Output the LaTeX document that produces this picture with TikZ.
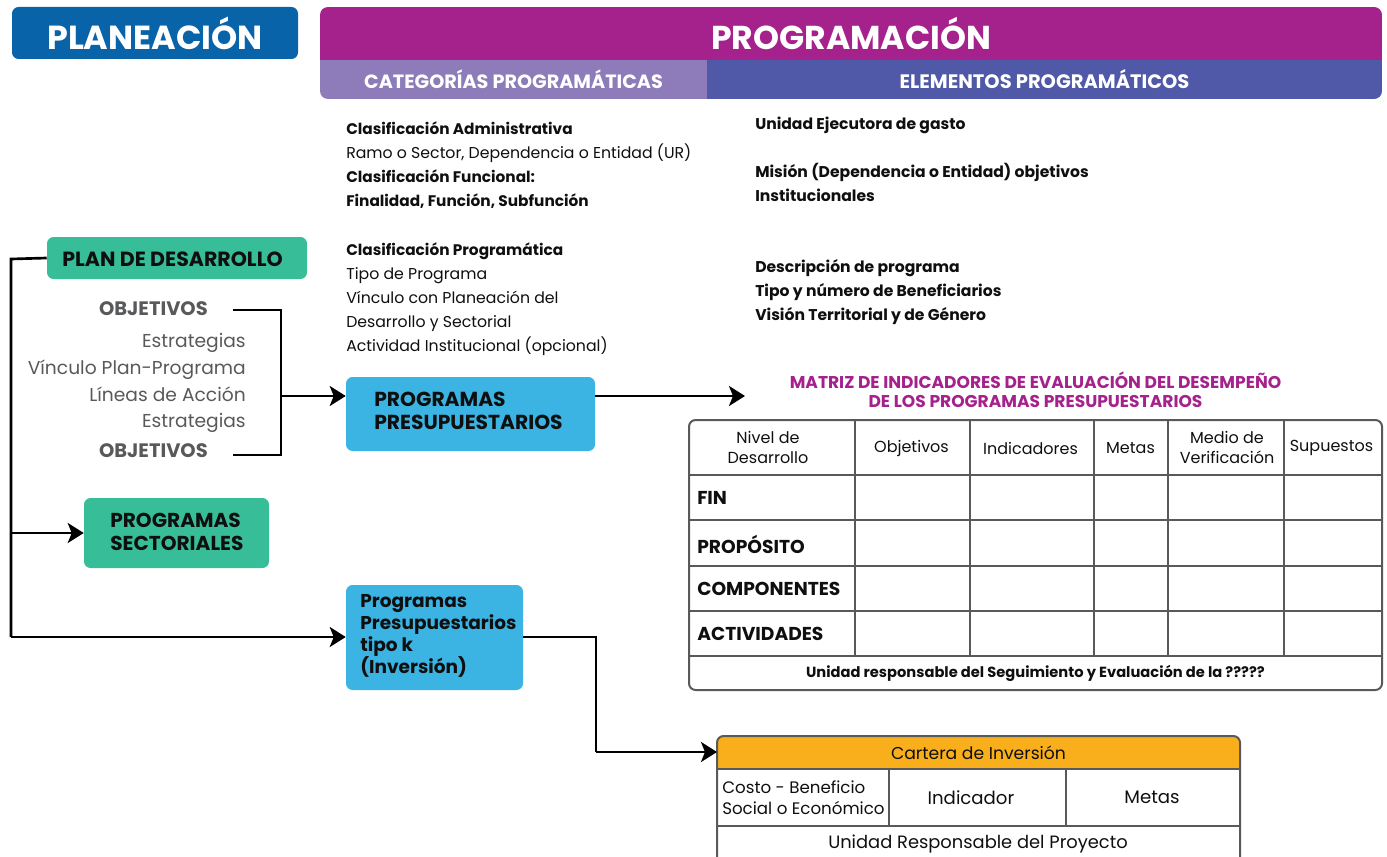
\documentclass[tikz,border=0pt]{standalone}
\usepackage{fontspec}
\setmainfont{Poppins}
\usetikzlibrary{arrows.meta}
\definecolor{cplan}{RGB}{8,99,168}
\definecolor{cmag}{RGB}{165,33,140}
\definecolor{clav}{RGB}{141,124,185}
\definecolor{cind}{RGB}{79,89,167}
\definecolor{cgreen}{RGB}{55,189,151}
\definecolor{ccyan}{RGB}{59,179,227}
\definecolor{corange}{RGB}{249,175,27}
\definecolor{cgray}{RGB}{88,89,91}
\definecolor{ctxt}{RGB}{15,15,15}
\tikzset{
  conn/.style={line width=2pt, black},
  arr/.style={conn, -{Stealth[length=12pt,width=15pt,inset=3pt]}},
  boxg/.style={fill=cgreen, rounded corners=5pt, inner sep=0pt},
  boxc/.style={fill=ccyan, rounded corners=5pt, inner sep=0pt},
  lbl/.style={inner sep=0pt, anchor=base west, font=\fontsize{11.8}{14}\selectfont, text=ctxt},
  lblb/.style={lbl, font=\fontsize{11.5}{14}\selectfont\bfseries},
  lblr/.style={lbl, font=\fontsize{11.7}{14}\selectfont\bfseries},
  grid/.style={draw=cgray, line width=1.5pt},
  cell/.style={inner sep=0pt, font=\fontsize{12}{14.5}\selectfont, align=center, text=ctxt},
  rowlbl/.style={inner sep=0pt, anchor=west, font=\fontsize{14}{16}\selectfont\bfseries, text=ctxt},
  plist/.style={inner sep=0pt, anchor=base east, font=\fontsize{14}{16}\selectfont, text=cgray},
  plistb/.style={inner sep=0pt, anchor=base east, font=\fontsize{14.6}{16}\selectfont\bfseries, text=cgray},
}
\begin{document}
\begin{tikzpicture}[x=0.75pt,y=-0.75pt]
\useasboundingbox (0,0) rectangle (1387,856);
% PLANEACION
\fill[cplan, rounded corners=5pt] (12,7) rectangle (298,59);
\node[text=white, font=\fontsize{25}{28}\selectfont\bfseries] (plan) at (155,33) {PLANEACIÓN};
% PROGRAMACION header
\begin{scope}
\clip[rounded corners=6pt] (320,7) rectangle (1382,99);
\fill[cmag] (320,7) rectangle (1382,60);
\fill[clav] (320,60) rectangle (707,99);
\fill[cind] (707,60) rectangle (1382,99);
\end{scope}
\node[text=white, font=\fontsize{24.8}{28}\selectfont\bfseries] (prog) at (851,33) {PROGRAMACIÓN};
\node[text=white, font=\fontsize{14.4}{16}\selectfont\bfseries] (cat) at (513.5,79) {CATEGORÍAS PROGRAMÁTICAS};
\node[text=white, font=\fontsize{14.6}{16}\selectfont\bfseries] (ele) at (1044.5,79) {ELEMENTOS PROGRAMÁTICOS};
% left text column
\node[lblb] (c1) at (346,134) {Clasificación Administrativa};
\node[lbl]  (c2) at (346,158) {Ramo o Sector, Dependencia o Entidad (UR)};
\node[lblb] (c3) at (346,182) {Clasificación Funcional:};
\node[lblb] (c4) at (346,206) {Finalidad, Función, Subfunción};
\node[lblb] (c5) at (346,255) {Clasificación Programática};
\node[lbl]  (c6) at (346,279) {Tipo de Programa};
\node[lbl]  (c7) at (346,303) {Vínculo con Planeación del};
\node[lbl]  (c8) at (346,327) {Desarrollo y Sectorial};
\node[lbl]  (c9) at (346,351) {Actividad Institucional (opcional)};
% right text column
\node[lblr] (e1) at (755,129) {Unidad Ejecutora de gasto};
\node[lblr] (e2) at (755,177) {Misión (Dependencia o Entidad) objetivos};
\node[lblr] (e3) at (755,201) {Institucionales};
\node[lblr] (e4) at (755,272) {Descripción de programa};
\node[lblr] (e5) at (755,296) {Tipo y número de Beneficiarios};
\node[lblr] (e6) at (755,320) {Visión Territorial y de Género};
% Plan de desarrollo
\node[boxg, minimum width=195pt, minimum height=31.5pt] (pd) at (177,258) {};
\node[inner sep=0pt, font=\fontsize{15.4}{17}\selectfont\bfseries, text=ctxt] (pdt) at (172.5,259) {PLAN DE DESARROLLO};
\node[plistb] (o1) at (208,315.5) {OBJETIVOS};
\node[plist] (s1) at (246,347) {Estrategias};
\node[plist] (v1) at (246,374) {Vínculo Plan-Programa};
\node[plist] (l1) at (246,401) {Líneas de Acción};
\node[plist] (s2) at (246,427) {Estrategias};
\node[plistb] (o2) at (208,457.5) {OBJETIVOS};
% Programas presupuestarios
\node[boxc, minimum width=186.75pt, minimum height=55.5pt] (pp) at (470.5,414) {};
\node[inner sep=0pt, anchor=west, align=left, font=\fontsize{15.2}{17}\selectfont\bfseries, text=ctxt] (ppt) at (374,411) {PROGRAMAS\\PRESUPUESTARIOS};
\node[boxg, minimum width=138.75pt, minimum height=52.5pt] (ps) at (176.5,533) {};
\node[inner sep=0pt, anchor=west, align=left, font=\fontsize{15.1}{17}\selectfont\bfseries, text=ctxt] (pst) at (110,532) {PROGRAMAS\\SECTORIALES};
\node[boxc, minimum width=132.75pt, minimum height=78.75pt] (pk) at (434.5,637.5) {};
\node[inner sep=0pt, anchor=west, align=left, font=\fontsize{13.9}{16.5}\selectfont\bfseries, text=ctxt] (pkt) at (360,636) {Programas\\Presupuestarios\\tipo k\\(Inversión)};
% connectors left
\coordinate (lt) at (11,259);
\coordinate (lb) at (11,637);
\coordinate (lm) at (11,533);
\draw[conn] (pd.west) -- (lt) -- (lb);
\draw[arr] (lm) -- (ps.west);
\draw[arr] (lb) -- (pk.west |- lb);
\coordinate (b1) at (233,310);
\coordinate (b2) at (281,310);
\coordinate (b3) at (281,455);
\coordinate (b4) at (233,455);
\coordinate (bm) at (281,396);
\draw[conn] (b1) -- (b2) -- (b3) -- (b4);
\draw[arr] (bm) -- (pp.west |- bm);
% Matrix title
\node[inner sep=0pt, align=center, text=cmag, font=\fontsize{12.8}{14.3}\selectfont\bfseries] (mt) at (1035.5,389.5) {MATRIZ DE INDICADORES DE EVALUACIÓN DEL DESEMPEÑO\\DE LOS PROGRAMAS PRESUPUESTARIOS};
\coordinate (mta) at (745,396);
\draw[arr] (pp.east |- mta) -- (mta);
% Matrix table
\draw[grid, rounded corners=5pt] (689,420) rectangle (1382,690);
\foreach \yy in {475,520,566,611,656} \draw[grid] (689,\yy) -- (1382,\yy);
\foreach \xx in {855,970,1094,1168,1284} \draw[grid] (\xx,420) -- (\xx,656);
\node[cell] (h1) at (768,447.5) {Nivel de\\Desarrollo};
\node[cell] (h2) at (911.5,448) {Objetivos};
\node[cell] (h3) at (1030.5,448) {Indicadores};
\node[cell] (h4) at (1130.5,448) {Metas};
\node[cell] (h5) at (1227,447.5) {Medio de\\Verificación};
\node[cell] (h6) at (1331.5,448) {Supuestos};
\node[rowlbl] (r1) at (697,497.5) {FIN};
\node[rowlbl] (r2) at (697,544) {PROPÓSITO};
\node[rowlbl] (r3) at (697,589) {COMPONENTES};
\node[rowlbl] (r4) at (697,634) {ACTIVIDADES};
\node[inner sep=0pt, font=\fontsize{11}{13}\selectfont\bfseries, text=ctxt] (ur) at (1035.5,673) {Unidad responsable del Seguimiento y Evaluación de la ?????};
% Cartera de inversion
\begin{scope}
\clip[rounded corners=5pt] (717,736) rectangle (1240,900);
\fill[corange] (717,736) rectangle (1240,769);
\end{scope}
\draw[grid, rounded corners=5pt] (717,900) -- (717,736) -- (1240,736) -- (1240,900);
\draw[grid] (717,769) -- (1240,769);
\draw[grid] (717,826) -- (1240,826);
\draw[grid] (889,769) -- (889,826);
\draw[grid] (1066,769) -- (1066,826);
\node[inner sep=0pt, font=\fontsize{12.9}{15}\selectfont, text=ctxt] (ci) at (978.5,752.5) {Cartera de Inversión};
\node[inner sep=0pt, anchor=west, align=left, font=\fontsize{12.5}{16}\selectfont, text=ctxt] (cb) at (722,797.5) {Costo - Beneficio\\Social o Económico};
\node[inner sep=0pt, font=\fontsize{13.6}{15}\selectfont, text=ctxt] (ind) at (971,797.5) {Indicador};
\node[inner sep=0pt, font=\fontsize{13.6}{15}\selectfont, text=ctxt] (met) at (1152,797.5) {Metas};
\node[inner sep=0pt, font=\fontsize{13.4}{15}\selectfont, text=ctxt] (urp) at (978,844) {Unidad Responsable del Proyecto};
\coordinate (k1) at (596,637);
\coordinate (k2) at (596,752);
\coordinate (k3) at (717,752);
\draw[conn] (pk.east |- k1) -- (k1) -- (k2);
\draw[arr] (k2) -- (k3);
\end{tikzpicture}
\end{document}
